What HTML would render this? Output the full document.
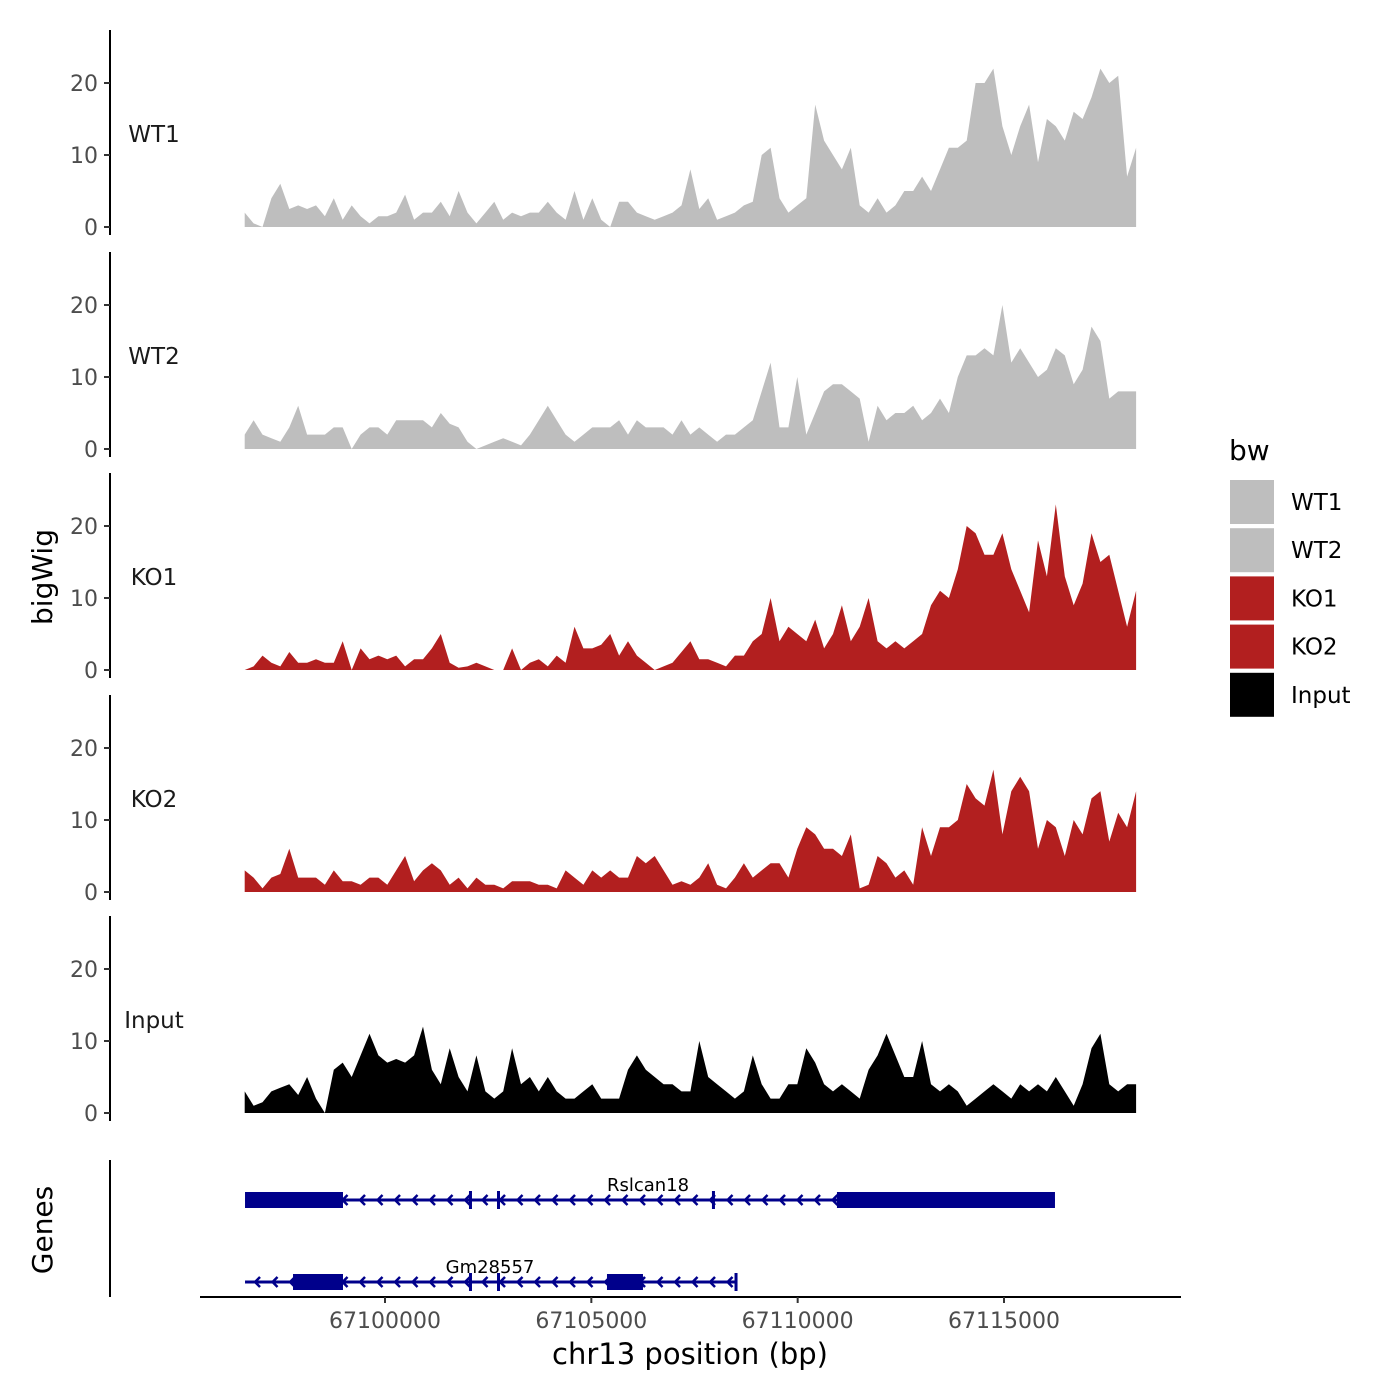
<!DOCTYPE html>
<html><head><meta charset="utf-8"><style>
body{margin:0;background:#fff}
svg{display:block;font-family:"DejaVu Sans","Liberation Sans",sans-serif}
</style></head><body>
<svg id="c" width="1400" height="1400" viewBox="0 0 1400 1400"></svg>
<script>
const startBp = 67096600;
const stepBp = 216;
const sampleNames = ["WT1","WT2","KO1","KO2","Input"];
const sampleColors = ["#bebebe","#bebebe","#b21f1f","#b21f1f","#000000"];
const wt1 = [2,0.5,0,4,6,2.5,3,2.5,3,1.5,4,1,3,1.5,0.5,1.5,1.5,2,4.5,1,2,2,3.5,1.5,5,2,0.5,2,3.5,1,2,1.5,2,2,3.5,2,1,5,1,4,1,0,3.5,3.5,2,1.5,1,1.5,2,3,8,2.5,4,1,1.5,2,3,3.5,10,11,4,2,3,4,17,12,10,8,11,3,2,4,2,3,5,5,7,5,8,11,11,12,20,20,22,14,10,14,17,9,15,14,12,16,15,18,22,20,21,7,11];
const wt2 = [2,4,2,1.5,1,3,6,2,2,2,3,3,0,2,3,3,2,4,4,4,4,3,5,3.5,3,1,0,0.5,1,1.5,1,0.5,2,4,6,4,2,1,2,3,3,3,4,2,4,3,3,3,2,4,2,3,2,1,2,2,3,4,8,12,3,3,10,2,5,8,9,9,8,7,1,6,4,5,5,6,4,5,7,5,10,13,13,14,13,20,12,14,12,10,11,14,13,9,11,17,15,7,8,8,8];
const ko1 = [0,0.5,2,1,0.5,2.5,1,1,1.5,1,1,4,0,3,1.5,2,1.5,2,0.5,1.5,1.5,3,5,1,0.3,0.5,1,0.5,0,0,3,0,1,1.5,0.5,2,1,6,3,3,3.5,5,2,4,2,1,0,0.5,1,2.5,4,1.5,1.5,1,0.5,2,2,4,5,10,4,6,5,4,7,3,5,9,4,6,10,4,3,4,3,4,5,9,11,10,14,20,19,16,16,19,14,11,8,18,13,23,13,9,12,19,15,16,11,6,11];
const ko2 = [3,2,0.5,2,2.5,6,2,2,2,1,3,1.5,1.5,1,2,2,1,3,5,1.5,3,4,3,1,2,0.5,2,1,1,0.5,1.5,1.5,1.5,1,1,0.5,3,2,1,3,2,3,2,2,5,4,5,3,1,1.5,1,2,4,1,0.5,2,4,2,3,4,4,2,6,9,8,6,6,5,8,0.5,1,5,4,2,3,1,9,5,9,9,10,15,13,12,17,8,14,16,14,6,10,9,5,10,8,13,14,7,11,9,14];
const input = [3,1,1.5,3,3.5,4,2.5,5,2,0,6,7,5,8,11,8,7,7.5,7,8,12,6,4,9,5,3,8,3,2,3,9,4,5,3,5,3,2,2,3,4,2,2,2,6,8,6,5,4,4,3,3,10,5,4,3,2,3,8,4,2,2,4,4,9,7,4,3,4,3,2,6,8,11,8,5,5,10,4,3,4,3,1,2,3,4,3,2,4,3,4,3,5,3,1,4,9,11,4,3,4,4];
const series = [wt1,wt2,ko1,ko2,input];
const yTicks = [0,10,20];
const xTicks = [67100000,67105000,67110000,67115000];
const geneNames = ["Rslcan18","Gm28557"];
const geneStarts = [67096608,67096608];
const geneEnds = [67116235,67108529];
const geneExons = [[[67096608,67098982],[67110952,67116235],[67102035,67102080],[67102714,67102760],[67107923,67107968]],
                   [[67097771,67098982],[67105379,67106251],[67102035,67102080],[67102714,67102760],[67108470,67108529]]];

const NS="http://www.w3.org/2000/svg";
const svg=document.getElementById('c');
function el(t,a,p){const e=document.createElementNS(NS,t);for(const k in a)e.setAttribute(k,a[k]);(p||svg).appendChild(e);return e;}
function xS(bp){return 385+(bp-67100000)*0.041267;}
const zeros=[227,449,670,892,1113];
const pxPerUnit=7.2;

series.forEach((vals,s)=>{
  const z=zeros[s];
  const g=el('g',{});
  
  
  let d='M'+xS(startBp)+','+z;
  vals.forEach((v,i)=>{d+=' L'+xS(startBp+i*stepBp).toFixed(1)+','+(z-v*pxPerUnit).toFixed(1);});
  d+=' L'+xS(startBp+(vals.length-1)*stepBp).toFixed(1)+','+z+' Z';
  const a=el('path',{d:d,fill:sampleColors[s]},g);
  
  
  const ax=el('line',{x1:110,x2:110,y1:z-197,y2:z+8,stroke:'#000','stroke-width':2},g);
  
  
  yTicks.forEach(t=>{
    const y=z-t*pxPerUnit;
    el('line',{x1:104,x2:110,y1:y,y2:y,stroke:'#333','stroke-width':2},g);
    const tx=el('text',{x:98,y:y+8,'text-anchor':'end','font-size':22,fill:'#4d4d4d'},g);
    tx.textContent=t;
    
    
  });
  const lb=el('text',{x:154,y:z-85,'text-anchor':'middle','font-size':23,fill:'#1a1a1a'},g);
  lb.textContent=sampleNames[s];
  
  
});

const gAx=el('line',{x1:110,x2:110,y1:1160,y2:1297,stroke:'#000','stroke-width':2});


const gy=[1200,1282];
const labelX=[648,490];
geneNames.forEach((n,i)=>{
  const g=el('g',{});
  
  
  const x1=xS(geneStarts[i]),x2=xS(geneEnds[i]),y=gy[i];
  el('line',{x1:x1,x2:x2,y1:y,y2:y,stroke:'#00008b','stroke-width':3},g);
  for(let x=x1+10;x<x2-6;x+=17.5){
    el('polyline',{points:(x+5)+','+(y-5)+' '+x+','+y+' '+(x+5)+','+(y+5),fill:'none',stroke:'#00008b','stroke-width':2.5},g);
  }
  geneExons[i].forEach(e=>{
    const ex=xS(e[0]),ew=Math.max(3,xS(e[1])-ex);
    const thin=ew<5;
    el('rect',{x:ex,y:y-(thin?9:8),width:ew,height:thin?18:16,fill:'#00008b'},g);
  });
  const t=el('text',{x:labelX[i],y:y-9,'text-anchor':'middle','font-size':18,fill:'#000'},g);
  t.textContent=n;
});

const xa=el('line',{x1:200,x2:1181,y1:1297,y2:1297,stroke:'#000','stroke-width':2});


xTicks.forEach(t=>{
  const x=xS(t);
  el('line',{x1:x,x2:x,y1:1297,y2:1303,stroke:'#333','stroke-width':2});
  const tx=el('text',{x:x,y:1328,'text-anchor':'middle','font-size':22,fill:'#4d4d4d'});
  tx.textContent=t;
  
  
});
const xt=el('text',{x:690,y:1364,'text-anchor':'middle','font-size':29,fill:'#000'});
xt.textContent='chr13 position (bp)';


const yt=el('text',{x:0,y:0,'text-anchor':'middle','font-size':28,fill:'#000',transform:'translate(52,577) rotate(-90)'});
yt.textContent='bigWig';


const gt=el('text',{x:0,y:0,'text-anchor':'middle','font-size':28,fill:'#000',transform:'translate(52,1230) rotate(-90)'});
gt.textContent='Genes';



const lt=el('text',{x:1229,y:460,'font-size':28,fill:'#000'});
lt.textContent='bw';


sampleNames.forEach((n,i)=>{
  const g=el('g',{});
  
  
  const y=480+i*48.2;
  el('rect',{x:1230,y:y,width:44,height:44,fill:sampleColors[i]},g);
  const t=el('text',{x:1291,y:y+30,'font-size':23,fill:'#000'},g);
  t.textContent=n;
});
</script>
</body></html>
